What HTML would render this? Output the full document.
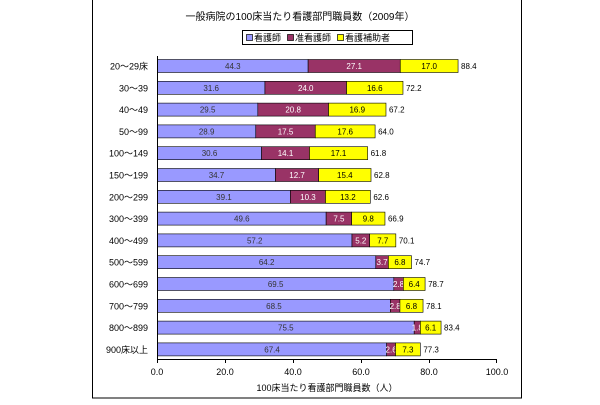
<!DOCTYPE html>
<html><head><meta charset="utf-8"><style>
body{margin:0;background:#fff;width:600px;height:400px;overflow:hidden}
svg text{font-family:"Liberation Sans","Noto Sans CJK JP",sans-serif;fill:#000}
</style></head><body>
<svg width="600" height="400" xmlns="http://www.w3.org/2000/svg">
<rect x="92.5" y="-2" width="429" height="400" fill="#fff" stroke="#000" stroke-width="1"/>
<text x="300" y="20" font-size="10" text-anchor="middle">一般病院の100床当たり看護部門職員数（2009年）</text>
<rect x="242.5" y="30.5" width="170" height="14" fill="#fff" stroke="#000"/>
<rect x="246.5" y="34.5" width="6" height="6" fill="#9999ff" stroke="#000" stroke-width="0.7"/><text x="254" y="41" font-size="9">看護師</text>
<rect x="287.5" y="34.5" width="6" height="6" fill="#993366" stroke="#000" stroke-width="0.7"/><text x="295" y="41" font-size="9">准看護師</text>
<rect x="337.5" y="34.5" width="6" height="6" fill="#ffff00" stroke="#000" stroke-width="0.7"/><text x="345" y="41" font-size="9">看護補助者</text>
<g id="bars"></g>
<line x1="157.5" y1="56" x2="157.5" y2="359.5" stroke="#000"/>
<line x1="157" y1="359.5" x2="497" y2="359.5" stroke="#000"/>
<g stroke="#000"><line x1="225.5" y1="359" x2="225.5" y2="363"/><line x1="293.5" y1="359" x2="293.5" y2="363"/><line x1="361.5" y1="359" x2="361.5" y2="363"/><line x1="429.5" y1="359" x2="429.5" y2="363"/><line x1="496.5" y1="359" x2="496.5" y2="363"/><line x1="157.5" y1="359" x2="157.5" y2="363"/></g>
<g font-size="9" text-anchor="middle">
<text x="157" y="375">0.0</text><text x="225" y="375">20.0</text><text x="293" y="375">40.0</text><text x="361" y="375">60.0</text><text x="429" y="375">80.0</text><text x="497" y="375">100.0</text>
</g>
<text x="327" y="391" font-size="9" text-anchor="middle">100床当たり看護部門職員数（人）</text>
</svg>
<script>
var d=[["20～29床",44.3,27.1,17.0,88.4],["30～39",31.6,24.0,16.6,72.2],["40～49",29.5,20.8,16.9,67.2],["50～99",28.9,17.5,17.6,64.0],["100～149",30.6,14.1,17.1,61.8],["150～199",34.7,12.7,15.4,62.8],["200～299",39.1,10.3,13.2,62.6],["300～399",49.6,7.5,9.8,66.9],["400～499",57.2,5.2,7.7,70.1],["500～599",64.2,3.7,6.8,74.7],["600～699",69.5,2.8,6.4,78.7],["700～799",68.5,2.8,6.8,78.1],["800～899",75.5,1.8,6.1,83.4],["900床以上",67.4,2.6,7.3,77.3]];
var s='',k=3.4,x0=157.5;
d.forEach(function(r,i){var cy=66+i*21.8,y=cy-6.5,x=x0;
[[r[1],'#9999ff','#333'],[r[2],'#993366','#fff'],[r[3],'#ffff00','#000']].forEach(function(p){var w=p[0]*k;
s+='<rect x="'+x+'" y="'+y+'" width="'+w+'" height="13" fill="'+p[1]+'" stroke="#000" stroke-width="0.6"/>';
s+='<text x="'+(x+w/2)+'" y="'+(cy+3)+'" font-size="8" text-anchor="middle" style="fill:'+p[2]+'">'+p[0].toFixed(1)+'</text>';x+=w;});
s+='<text x="'+(x+3)+'" y="'+(cy+3)+'" font-size="8">'+r[4].toFixed(1)+'</text>';
s+='<text x="148" y="'+(cy+3.5)+'" font-size="9" text-anchor="end">'+r[0]+'</text>';});
document.getElementById('bars').innerHTML=s;
</script>
</body></html>
